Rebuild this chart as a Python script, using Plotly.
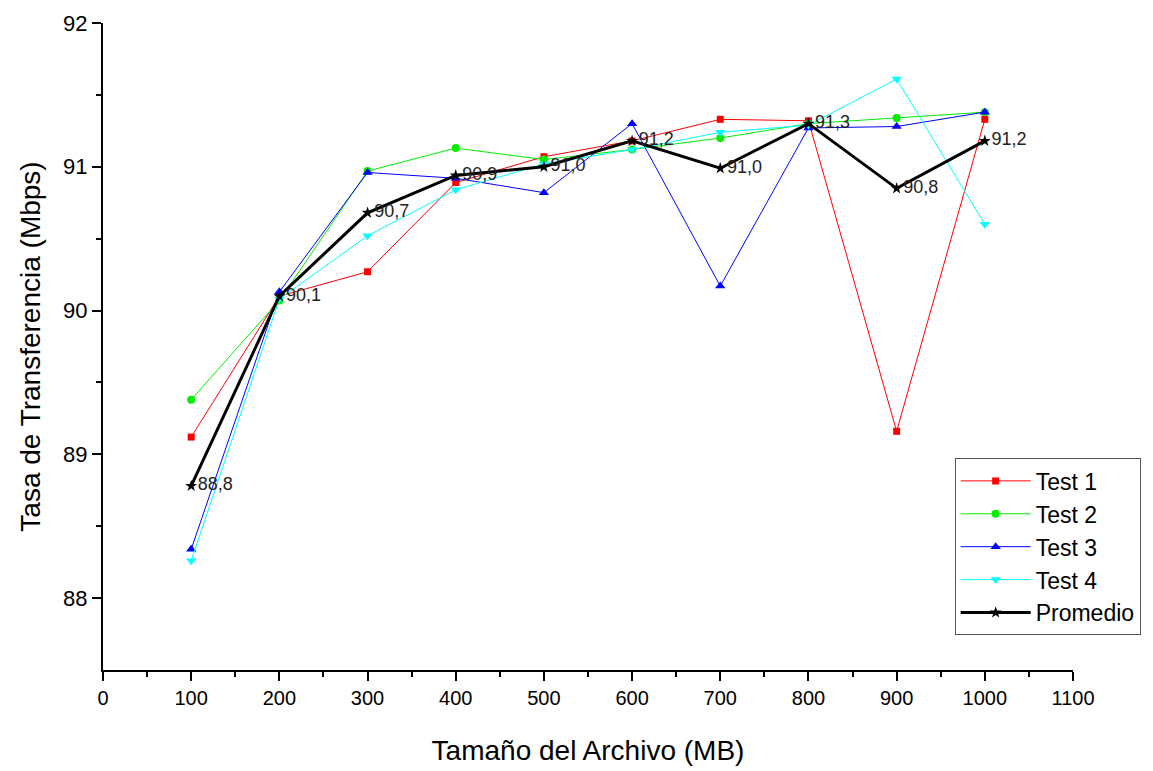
import plotly.graph_objects as go

sizes = [100, 200, 300, 400, 500, 600, 700, 800, 900, 1000]
test1 = [89.12, 90.10, 90.27, 90.89, 91.07, 91.18, 91.33, 91.32, 89.16, 91.33]
test2 = [89.38, 90.07, 90.97, 91.13, 91.05, 91.12, 91.20, 91.30, 91.34, 91.38]
test3 = [88.34, 90.13, 90.96, 90.92, 90.82, 91.30, 90.17, 91.27, 91.28, 91.38]
test4 = [88.26, 90.08, 90.52, 90.84, 91.02, 91.12, 91.24, 91.29, 91.61, 90.60]
promedio = [88.78, 90.10, 90.68, 90.94, 91.00, 91.18, 90.99, 91.30, 90.85, 91.18]
prom_labels = ["88,8", "90,1", "90,7", "90,9", "91,0", "91,2", "91,0", "91,3", "90,8", "91,2"]

fig = go.Figure()
series = [
    ("Test 1", test1, "#FF0000", "square", 7),
    ("Test 2", test2, "#00EE00", "circle", 8),
    ("Test 3", test3, "#0000FF", "triangle-up", 9),
    ("Test 4", test4, "#00FFFF", "triangle-down", 9),
]
for name, ys, col, sym, ms in series:
    fig.add_trace(go.Scatter(x=sizes, y=ys, name=name, mode="lines+markers",
                             line=dict(color=col, width=1),
                             marker=dict(symbol=sym, size=ms, color=col)))
fig.add_trace(go.Scatter(x=sizes, y=promedio, name="Promedio", mode="lines+markers+text",
                         line=dict(color="black", width=3),
                         marker=dict(symbol="star", size=9, color="black"),
                         text=prom_labels, textposition="middle right",
                         textfont=dict(size=18, color="#222", family="Liberation Sans, Arial")))

fig.update_layout(
    width=1145, height=763,
    margin=dict(l=95, r=78, t=15, b=101),
    plot_bgcolor="white", paper_bgcolor="white",
    font=dict(family="Liberation Sans, Arial", color="black"),
    legend=dict(x=0.878, y=0.327, xanchor="left", yanchor="top",
                bordercolor="#555", borderwidth=1, bgcolor="white",
                font=dict(size=23), tracegroupgap=0, itemwidth=70),
    showlegend=True,
)
fig.update_xaxes(range=[0, 1100], tickvals=list(range(0, 1101, 100)), automargin=False,
                 showgrid=False, zeroline=False, showline=True, linecolor="black", linewidth=2,
                 ticks="outside", ticklen=9, tickwidth=2, tickcolor="black",
                 minor=dict(tickvals=list(range(50, 1100, 100)), ticks="outside", ticklen=5,
                            tickwidth=1.5, tickcolor="black", showgrid=False),
                 tickfont=dict(size=20),
                 title=dict(text="Tamaño del Archivo (MB)", font=dict(size=28), standoff=32))
fig.update_yaxes(range=[87.5, 92], tickvals=[88, 89, 90, 91, 92], automargin=False,
                 showgrid=False, zeroline=False, showline=True, linecolor="black", linewidth=2,
                 ticks="outside", ticklen=9, tickwidth=2, tickcolor="black",
                 minor=dict(tickvals=[88.5, 89.5, 90.5, 91.5], ticks="outside", ticklen=5,
                            tickwidth=1.5, tickcolor="black", showgrid=False),
                 tickfont=dict(size=22),
                 title=dict(text="Tasa de Transferencia (Mbps)", font=dict(size=28), standoff=14))

fig.write_html("out.html")
